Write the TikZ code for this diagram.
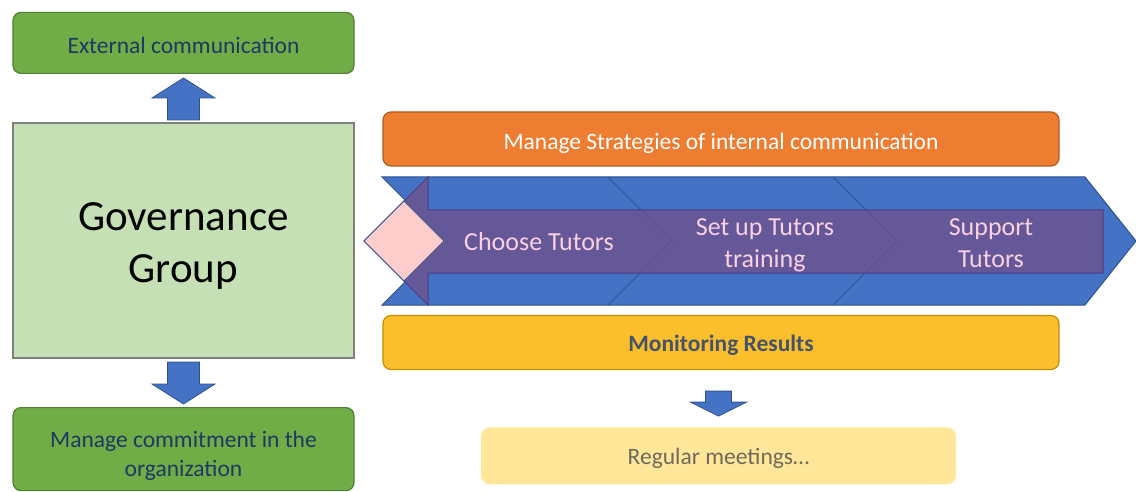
\documentclass[tikz,border=0pt]{standalone}
\usepackage{fontspec}
\setmainfont{Carlito}
\usepackage{xcolor}
\usepackage{tikz}
\usetikzlibrary{positioning, calc}
\definecolor{greenfill}{RGB}{112,173,71}
\definecolor{greenline}{RGB}{80,126,50}
\definecolor{navytext}{RGB}{31,56,100}
\definecolor{govfill}{RGB}{197,224,180}
\definecolor{govline}{RGB}{127,127,127}
\definecolor{orangefill}{RGB}{237,125,49}
\definecolor{orangeline}{RGB}{174,90,33}
\definecolor{goldfill}{RGB}{251,191,45}
\definecolor{goldline}{RGB}{191,144,0}
\definecolor{slatetext}{RGB}{68,84,106}
\definecolor{paleyellow}{RGB}{255,230,153}
\definecolor{greytext}{RGB}{112,106,92}
\definecolor{arrowblue}{RGB}{68,114,196}
\definecolor{arrowline}{RGB}{47,82,143}
\definecolor{plum}{RGB}{115,78,136}
\definecolor{plumline}{RGB}{75,62,130}
\definecolor{pinkfill}{RGB}{255,204,204}
\definecolor{pinktext}{RGB}{250,208,226}
\tikzset{
    greenbox/.style={rectangle, rounded corners=8pt, draw=greenline, fill=greenfill, line width=1.2pt, minimum width=341pt, text=navytext, align=center, font=\fontsize{23.5pt}{29pt}\selectfont},
    govbox/.style={rectangle, draw=govline, fill=govfill, line width=2pt, minimum width=341pt, minimum height=235pt, align=center, font=\fontsize{43pt}{52pt}\selectfont},
    wide/.style={rectangle, rounded corners=8pt, line width=1.2pt, minimum width=676pt, minimum height=54pt, text height=18pt, text depth=0pt, font=\fontsize{23.5pt}{29pt}\selectfont},
    stagetext/.style={text=pinktext, align=center, font=\fontsize{26pt}{32pt}\selectfont},
    band/.style={draw=arrowline, fill=arrowblue, line width=1pt, line join=miter},
    seam/.style={draw=arrowline, line width=1pt},
    plumband/.style={draw=plumline, fill=plum, fill opacity=0.7, line width=1pt},
    gem/.style={draw=arrowline, fill=pinkfill, line width=1pt},
    blockarrow/.style n args={5}{draw=arrowline, fill=arrowblue, line width=0.8pt,
        to path={let \p1=(\tikztostart), \p2=(\tikztotarget), \n1={sign(\y2-\y1)} in
            ({\x2-#3},{\y1+\n1*#1}) -- ({\x2-#3},{\y2-\n1*(#2+#5)}) -- ({\x2-#4},{\y2-\n1*(#2+#5)})
            -- ({\x2},{\y2-\n1*#2}) -- ({\x2+#4},{\y2-\n1*(#2+#5)}) -- ({\x2+#3},{\y2-\n1*(#2+#5)})
            -- ({\x2+#3},{\y1+\n1*#1}) -- cycle}}
}

\begin{document}
\begin{tikzpicture}[x=1pt, y=-1pt]
    \useasboundingbox (0,0) rectangle (1136,492);
    % Left column
    \node[govbox, text height=83pt, text depth=0pt] (gov) at (183.5,240.5) {Governance\\Group};
    \node[greenbox, minimum height=61pt, text height=22pt, text depth=0pt, above=48pt of gov] (ext) {External communication};
    \node[greenbox, minimum height=83pt, text height=55pt, text depth=0pt, below=48pt of gov] (com) {Manage commitment in the\\organization};

    \draw[blockarrow={2pt}{4pt}{16pt}{31.5pt}{20pt}] (gov.north) to (ext.south);
    \draw[blockarrow={3pt}{3pt}{16pt}{31.5pt}{20pt}] (gov.south) to (com.north);

    % Process band
    \draw[band] (382,177) -- (1085,177) -- (1136,241) -- (1085,305) -- (382,305) -- (446,241) -- cycle;
    \draw[seam] (608,177) -- (672,241) -- (608,305);
    \draw[seam] (833,177) -- (897,241) -- (833,305);
    \draw[plumband] (364,241) -- (428,177) -- (428,210) -- (1103,210) -- (1103,273) -- (428,273) -- (428,305) -- cycle;
    \draw[gem] (364,241) -- (404,201) -- (444,241) -- (404,281) -- cycle;

    \node[stagetext, text height=16pt, text depth=0pt] (choose) at (539,242) {Choose Tutors};
    \node[stagetext, text height=48pt, text depth=0pt] (setup) at (765,243) {Set up Tutors\\training};
    \node[stagetext, text height=48pt, text depth=0pt] (support) at (991,243) {Support\\Tutors};

    % Right column boxes
    \node[wide, draw=orangeline, fill=orangefill, text=white, text height=21pt] (strat) at (721,139) {Manage Strategies of internal communication};
    \node[wide, draw=goldline, fill=goldfill, text=slatetext, text height=17pt, font=\fontsize{23.5pt}{29pt}\selectfont\bfseries] (mon) at (721,342.5) {Monitoring Results};
    \node[rectangle, rounded corners=9pt, fill=paleyellow, minimum width=475pt, minimum height=57pt, text height=18pt, text depth=0pt, text=greytext, font=\fontsize{23.5pt}{29pt}\selectfont, below=57pt of mon, xshift=-2.5pt] (reg) {Regular meetings\dots};

    \draw[blockarrow={21pt}{11pt}{13pt}{28pt}{14pt}] (mon.south) to (reg.north);
\end{tikzpicture}
\end{document}
